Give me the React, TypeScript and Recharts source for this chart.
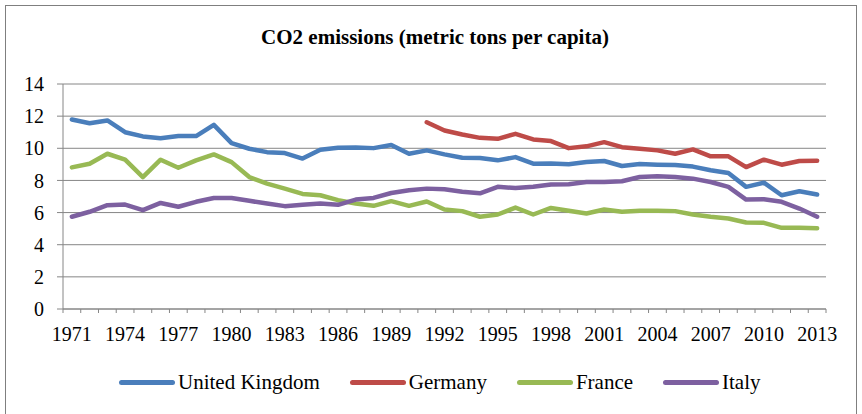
import { CartesianGrid, Legend, Line, LineChart, XAxis, YAxis } from "recharts";

const years = Array.from({ length: 43 }, (_, i) => 1971 + i);

const unitedKingdom = [
  11.79, 11.56, 11.73, 11.0, 10.74, 10.63, 10.76, 10.76, 11.46, 10.32,
  9.97, 9.76, 9.7, 9.36, 9.91, 10.03, 10.05, 10.01, 10.2, 9.66,
  9.87, 9.62, 9.41, 9.39, 9.25, 9.45, 9.04, 9.06, 9.0, 9.14,
  9.21, 8.9, 9.02, 8.98, 8.96, 8.86, 8.63, 8.46, 7.6, 7.86,
  7.08, 7.33, 7.12,
];

const germany = [
  null, null, null, null, null, null, null, null, null, null,
  null, null, null, null, null, null, null, null, null, null,
  11.62, 11.11, 10.86, 10.65, 10.59, 10.9, 10.55, 10.45, 10.01, 10.12,
  10.38, 10.07, 9.97, 9.87, 9.66, 9.93, 9.5, 9.5, 8.83, 9.29,
  8.98, 9.21, 9.23,
];

const france = [
  8.81, 9.04, 9.66, 9.29, 8.21, 9.29, 8.79, 9.25, 9.62, 9.14,
  8.21, 7.8, 7.49, 7.16, 7.08, 6.77, 6.56, 6.42, 6.71, 6.42,
  6.69, 6.19, 6.09, 5.74, 5.88, 6.31, 5.88, 6.29, 6.11, 5.94,
  6.19, 6.05, 6.11, 6.11, 6.09, 5.88, 5.74, 5.63, 5.38, 5.36,
  5.05, 5.05, 5.03,
];

const italy = [
  5.74, 6.05, 6.46, 6.5, 6.15, 6.6, 6.36, 6.67, 6.91, 6.91,
  6.73, 6.56, 6.4, 6.49, 6.56, 6.48, 6.81, 6.91, 7.22, 7.39,
  7.49, 7.45, 7.29, 7.2, 7.6, 7.53, 7.6, 7.74, 7.76, 7.9,
  7.9, 7.95, 8.21, 8.26, 8.21, 8.11, 7.9, 7.6, 6.81, 6.83,
  6.67, 6.25, 5.74,
];

const yTicks = [0, 2, 4, 6, 8, 10, 12, 14];
const labelYears = [1971, 1974, 1977, 1980, 1983, 1986, 1989, 1992, 1995, 1998, 2001, 2004, 2007, 2010, 2013];

const seriesList = [
  { key: "uk", name: "United Kingdom", color: "#4A7EBB" },
  { key: "de", name: "Germany", color: "#BE4B48" },
  { key: "fr", name: "France", color: "#98B954" },
  { key: "it", name: "Italy", color: "#7D60A0" },
];

const chartData = years.map((year, i) => ({
  year,
  uk: unitedKingdom[i],
  de: germany[i],
  fr: france[i],
  it: italy[i],
}));

// tick marks sit on year boundaries, labels on every third year
const boundaryTicks = Array.from({ length: 44 }, (_, i) => 1970.5 + i);
const xTicks = [...boundaryTicks, ...labelYears].sort((a, b) => a - b);

const FONT = "Liberation Serif, DejaVu Serif, serif";
const GRAY = "#868686";

const YearTick = (props: { x?: number; y?: number; payload?: { value: number } }) => {
  const { x = 0, y = 0, payload } = props;
  const value = payload?.value ?? 0;
  if (!Number.isInteger(value)) {
    return <line x1={x} x2={x} y1={y} y2={y + 4} stroke={GRAY} strokeWidth={1} />;
  }
  return (
    <text x={x} y={y + 32} textAnchor="middle" fontSize={20} fontFamily={FONT} fill="#000">
      {value}
    </text>
  );
};

const renderLegend = () => (
  <div
    style={{
      display: "flex",
      alignItems: "center",
      fontFamily: FONT,
      fontSize: 21,
      color: "#000",
      paddingLeft: 119,
    }}
  >
    {seriesList.map((s) => (
      <div key={s.key} style={{ display: "flex", alignItems: "center", marginRight: 30 }}>
        <span
          style={{
            display: "inline-block",
            width: 56,
            height: 5,
            borderRadius: 3,
            background: s.color,
            marginRight: 3,
          }}
        />
        <span>{s.name}</span>
      </div>
    ))}
  </div>
);

export default function App() {
  return (
    <div
      style={{
        position: "absolute",
        left: 0,
        top: 0,
        width: 862,
        height: 414,
        overflow: "hidden",
        background: "#fff",
      }}
    >
      <div style={{ position: "absolute", left: 0, top: 0 }}>
        <LineChart
          width={862}
          height={414}
          data={chartData}
          margin={{ top: 84, right: 36, left: 0, bottom: 75 }}
        >
          <CartesianGrid vertical={false} stroke={GRAY} strokeWidth={1} />
          <XAxis
            dataKey="year"
            type="number"
            domain={[1970.5, 2013.5]}
            ticks={xTicks}
            interval={0}
            tickLine={false}
            tickSize={0}
            tickMargin={0}
            height={30}
            axisLine={{ stroke: GRAY }}
            tick={YearTick}
          />
          <YAxis
            domain={[0, 14]}
            ticks={yTicks}
            interval={0}
            width={63}
            tickSize={6}
            tickMargin={13}
            axisLine={{ stroke: GRAY }}
            tickLine={{ stroke: GRAY }}
            tick={{ fontSize: 20, fontFamily: FONT, fill: "#000" }}
          />
          <Legend
            layout="horizontal"
            verticalAlign="middle"
            content={renderLegend}
            wrapperStyle={{ top: 370, left: 0, width: 862 }}
          />
          {seriesList.map((s) => (
            <Line
              key={s.key}
              dataKey={s.key}
              name={s.name}
              stroke={s.color}
              strokeWidth={4.5}
              dot={false}
              activeDot={false}
              isAnimationActive={false}
              strokeLinejoin="round"
              strokeLinecap="round"
            />
          ))}
        </LineChart>
      </div>
      <div
        style={{
          position: "absolute",
          top: 25,
          left: 0,
          width: 870,
          textAlign: "center",
          fontFamily: FONT,
          fontWeight: "bold",
          fontSize: 21,
          lineHeight: "24px",
          color: "#000",
        }}
      >
        CO2 emissions (metric tons per capita)
      </div>
      <div
        style={{
          position: "absolute",
          left: 5,
          top: 5,
          width: 852,
          height: 430,
          border: "1px solid #7f7f7f",
          boxSizing: "border-box",
          pointerEvents: "none",
        }}
      />
    </div>
  );
}
